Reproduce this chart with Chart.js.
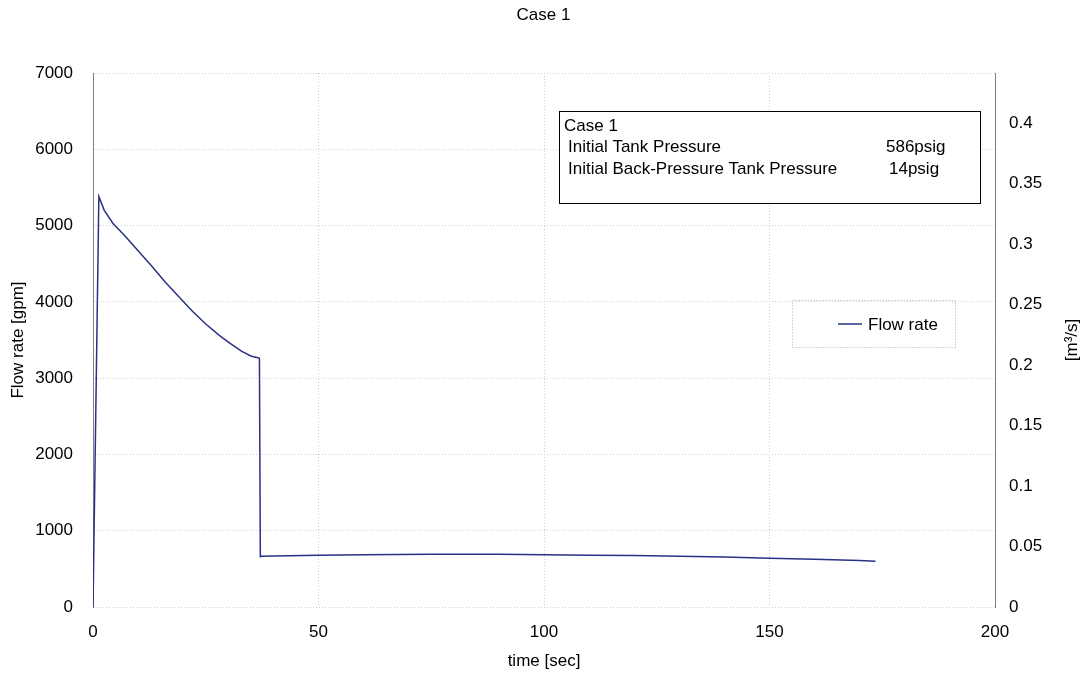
<!DOCTYPE html>
<html>
<head>
<meta charset="utf-8">
<script src="https://cdn.jsdelivr.net/npm/chart.js@4/dist/chart.umd.min.js"></script>
<style>
  html, body { margin: 0; padding: 0; background: #fff; }
  #wrap { width: 1087px; height: 676px; }
</style>
</head>
<body>
<div id="wrap"><canvas id="flowChart" width="1087" height="676"></canvas></div>
<script>
// time [sec] and flow rate [gpm]
const timeSec = [0, 1.3, 2.5, 4.4, 7, 10, 13, 16, 19.3, 22, 25, 28, 30.4, 33, 35, 36.3, 36.9, 37.1, 37.3, 40, 50, 60, 75, 90, 100, 110, 120, 130, 140, 150, 160, 170, 173.5];
const flowGpm = [0, 5380, 5200, 5030, 4870, 4670, 4470, 4260, 4050, 3880, 3710, 3560, 3457, 3350, 3290, 3270, 3260, 660, 665, 670, 680, 685, 690, 690, 685, 680, 675, 665, 655, 640, 625, 610, 600];

const xTicks = [0, 50, 100, 150, 200];
const yTicks = [0, 1000, 2000, 3000, 4000, 5000, 6000, 7000];
const y2Ticks = [0, 0.05, 0.1, 0.15, 0.2, 0.25, 0.3, 0.35, 0.4];
const GPM_PER_M3S = 15850.3;

const noteTitle = "Case 1";
const noteRows = [
  ["Initial Tank Pressure", "586psig"],
  ["Initial Back-Pressure Tank Pressure", "14psig"],
];

const FONT = "'Liberation Sans', Arial, Helvetica, sans-serif";
const FS = 17;
const lineColor = "#2a3184";

// annotation box + legend box + right axis title
const extras = {
  id: "extras",
  afterDraw(chart) {
    const ctx = chart.ctx;
    const a = chart.chartArea;
    ctx.save();
    ctx.font = FS + "px " + FONT;
    ctx.textBaseline = "middle";

    // note box
    const bx = a.left + 466, by = a.top + 38, bw = 421, bh = 92;
    ctx.fillStyle = "#fff";
    ctx.fillRect(bx, by, bw, bh);
    ctx.strokeStyle = "#000";
    ctx.lineWidth = 1;
    ctx.strokeRect(bx + 0.5, by + 0.5, bw, bh);
    ctx.fillStyle = "#000";
    ctx.textAlign = "left";
    ctx.fillText(noteTitle, bx + 5, by + 15);
    noteRows.forEach((r, i) => {
      ctx.fillText(r[0], bx + 9, by + 36 + i * 22);
      ctx.fillText(r[1], bx + 327 + i * 3, by + 36 + i * 22);
    });

    // legend box
    const lx = a.left + 699, ly = a.top + 227, lw = 163, lh = 47;
    ctx.setLineDash([1, 2]);
    ctx.strokeStyle = "#b0b0b0";
    ctx.strokeRect(lx + 0.5, ly + 0.5, lw, lh);
    ctx.setLineDash([]);
    ctx.strokeStyle = lineColor;
    ctx.lineWidth = 1.5;
    ctx.beginPath();
    ctx.moveTo(lx + 46, ly + 24);
    ctx.lineTo(lx + 70, ly + 24);
    ctx.stroke();
    ctx.fillText(chart.data.datasets[0].label, lx + 76, ly + 25);

    // right axis title, reading bottom to top
    ctx.translate(1072, (a.top + a.bottom) / 2);
    ctx.rotate(-Math.PI / 2);
    ctx.textAlign = "center";
    ctx.fillText("[m\u00B3/s]", 0, 0);
    ctx.restore();
  },
};

const grid = { color: "#cfcfcf", drawTicks: false, lineWidth: 1 };
const tickFont = { family: FONT, size: FS };

new Chart(document.getElementById("flowChart").getContext("2d"), {
  type: "line",
  data: {
    datasets: [
      {
        label: "Flow rate",
        data: timeSec.map((t, i) => ({ x: t, y: flowGpm[i] })),
        borderColor: lineColor,
        backgroundColor: lineColor,
        borderWidth: 1.5,
        pointRadius: 0,
        tension: 0,
        yAxisID: "y",
      },
    ],
  },
  options: {
    responsive: false,
    animation: false,
    layout: { padding: 0 },
    plugins: {
      legend: { display: false },
      tooltip: { enabled: false },
      title: {
        display: true,
        text: "Case 1",
        color: "#000",
        font: { family: FONT, size: FS, weight: "normal" },
        padding: { top: 5, bottom: 47.6 },
      },
    },
    scales: {
      x: {
        type: "linear",
        min: 0,
        max: 200,
        afterBuildTicks: (s) => { s.ticks = xTicks.map((v) => ({ value: v })); },
        afterFit: (s) => { s.height = 69; },
        grid: grid,
        border: { display: false, dash: [1, 2] },
        ticks: { color: "#000", font: tickFont, padding: 15 },
        title: {
          display: true,
          text: "time [sec]",
          color: "#000",
          font: { family: FONT, size: FS },
          padding: { top: 0, bottom: 4 },
        },
      },
      y: {
        position: "left",
        min: 0,
        max: 7000,
        afterBuildTicks: (s) => { s.ticks = yTicks.map((v) => ({ value: v })); },
        afterFit: (s) => { s.width = 93; },
        grid: grid,
        border: { display: true, color: "#808080", width: 1, dash: [1, 2] },
        ticks: { color: "#000", font: tickFont, padding: 20, callback: (v) => String(v) },
        title: {
          display: true,
          text: "Flow rate [gpm]",
          color: "#000",
          font: { family: FONT, size: FS },
          padding: { top: 8, bottom: 0 },
        },
      },
      y2: {
        position: "right",
        min: 0,
        max: 7000 / GPM_PER_M3S,
        afterBuildTicks: (s) => { s.ticks = y2Ticks.map((v) => ({ value: v })); },
        afterFit: (s) => { s.width = 92; },
        grid: { display: false, drawTicks: false },
        border: { display: true, color: "#808080", width: 1 },
        ticks: { color: "#000", font: tickFont, padding: 14, callback: (v) => String(v) },
      },
    },
  },
  plugins: [extras],
});
</script>
</body>
</html>
